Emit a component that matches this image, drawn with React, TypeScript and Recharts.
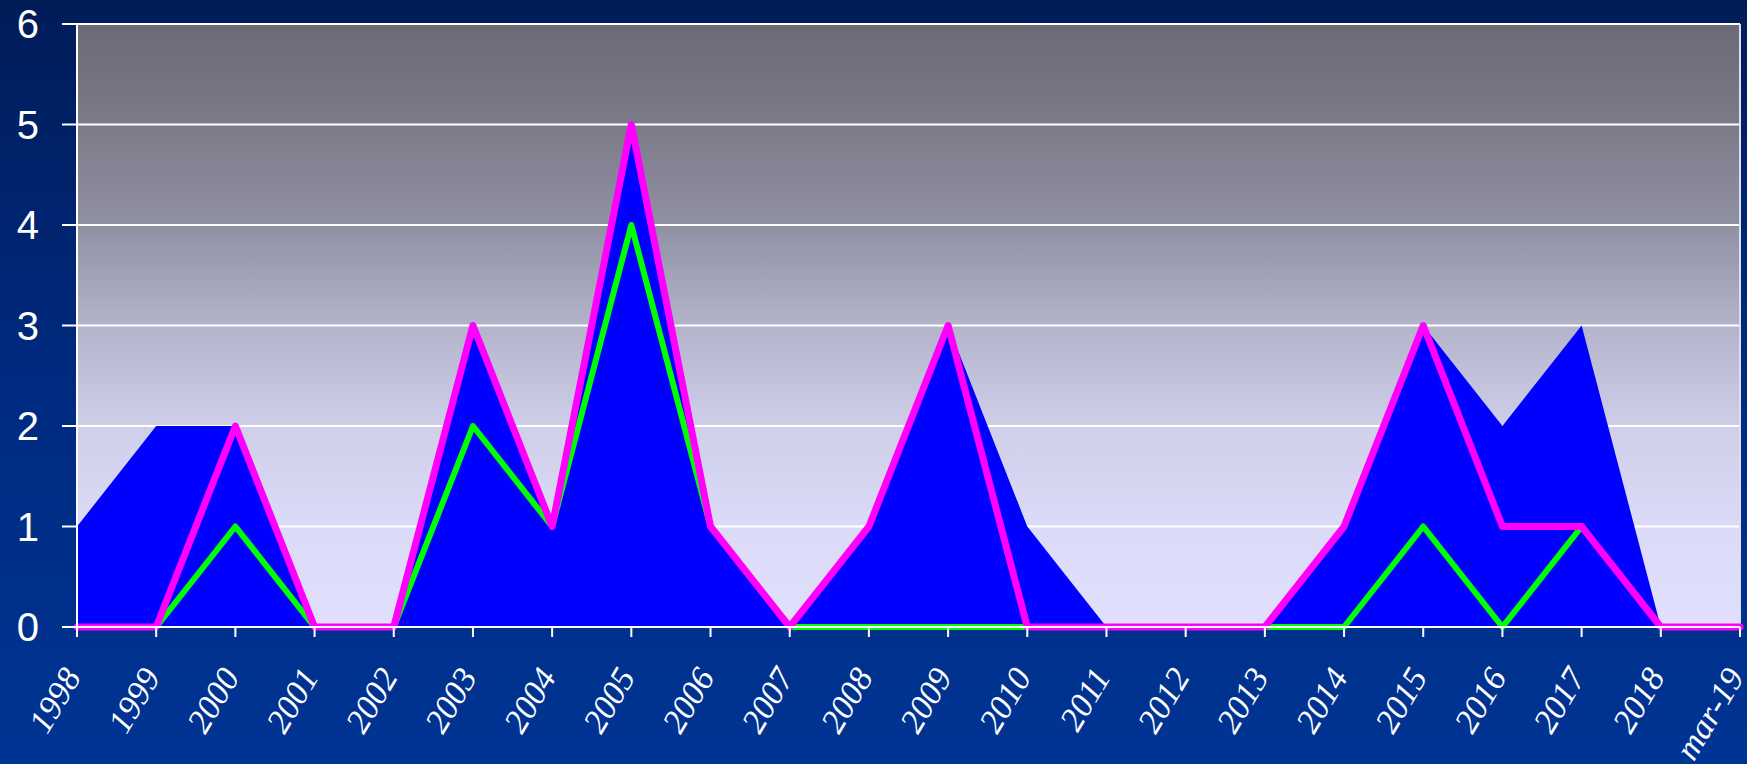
import {
  Area,
  CartesianGrid,
  ComposedChart,
  Line,
  ReferenceLine,
  XAxis,
  YAxis,
} from "recharts";

// categories and series
const years = [
  "1998", "1999", "2000", "2001", "2002", "2003", "2004", "2005", "2006", "2007", "2008",
  "2009", "2010", "2011", "2012", "2013", "2014", "2015", "2016", "2017", "2018", "mar-19",
];
const blueArea = [1, 2, 2, 0, 0, 3, 1, 5, 1, 0, 1, 3, 1, 0, 0, 0, 1, 3, 2, 3, 0, 0];
const magentaLine = [0, 0, 2, 0, 0, 3, 1, 5, 1, 0, 1, 3, 0, 0, 0, 0, 1, 3, 1, 1, 0, 0];
const greenLine = [0, 0, 1, 0, 0, 2, 1, 4, 1, 0, 0, 0, 0, 0, 0, 0, 0, 1, 0, 1, 0, 0];
const yTicks = [0, 1, 2, 3, 4, 5, 6];

const data = years.map((name, i) => ({
  name,
  blue: blueArea[i],
  magenta: magentaLine[i],
  green: greenLine[i],
}));

function YearTick({ x, y, payload }: any) {
  return (
    <g transform={`translate(${x + 5},${y + 38})`}>
      <text
        x={0}
        y={0}
        textAnchor="end"
        transform="rotate(-59)"
        fill="#ffffff"
        fontFamily="'Liberation Serif', serif"
        fontStyle="italic"
        fontSize={34}
      >
        {payload.value}
      </text>
    </g>
  );
}

export default function App() {
  return (
    <div
      style={{
        position: "absolute",
        left: 0,
        top: 0,
        width: 1747,
        height: 764,
        background: "linear-gradient(to bottom, #001c58 0%, #002a80 50%, #003494 100%)",
      }}
    >
      <ComposedChart
        width={1747}
        height={764}
        data={data}
        margin={{ top: 24, right: 7, left: 0, bottom: 0 }}
      >
        <defs>
          <linearGradient id="plotBg" x1="0" y1="0" x2="0" y2="1">
            <stop offset="0%" stopColor="#6b6b77" />
            <stop offset="17%" stopColor="#7b7b89" />
            <stop offset="33%" stopColor="#9090a3" />
            <stop offset="50%" stopColor="#b3b3cb" />
            <stop offset="67%" stopColor="#cfcfea" />
            <stop offset="83%" stopColor="#dbdbf7" />
            <stop offset="100%" stopColor="#e0e0fc" />
          </linearGradient>
        </defs>
        <CartesianGrid
          vertical={false}
          stroke="#ffffff"
          strokeWidth={2}
          strokeDasharray=""
          fill="url(#plotBg)"
          fillOpacity={1}
        />
        <XAxis
          dataKey="name"
          scale="point"
          interval={0}
          height={137}
          stroke="#ffffff"
          strokeWidth={2}
          tickSize={10}
          tick={<YearTick />}
        />
        <YAxis
          domain={[0, 6]}
          ticks={yTicks}
          width={77}
          stroke="#ffffff"
          strokeWidth={2}
          tickSize={15}
          tickMargin={23}
          tick={{ fill: "#ffffff", fontSize: 40, fontFamily: "'Liberation Sans', Arial, sans-serif" }}
        />
        <ReferenceLine x="mar-19" stroke="#dcdcf2" strokeWidth={2} />
        <Area
          type="linear"
          dataKey="blue"
          fill="#0000ff"
          fillOpacity={1}
          stroke="none"
          isAnimationActive={false}
        />
        <Line
          type="linear"
          dataKey="green"
          stroke="#00ff00"
          strokeWidth={6}
          dot={false}
          strokeLinejoin="round"
          isAnimationActive={false}
        />
        <Line
          type="linear"
          dataKey="magenta"
          stroke="#ff00ff"
          strokeWidth={7}
          dot={false}
          strokeLinejoin="round"
          strokeLinecap="round"
          isAnimationActive={false}
        />
      </ComposedChart>
    </div>
  );
}
